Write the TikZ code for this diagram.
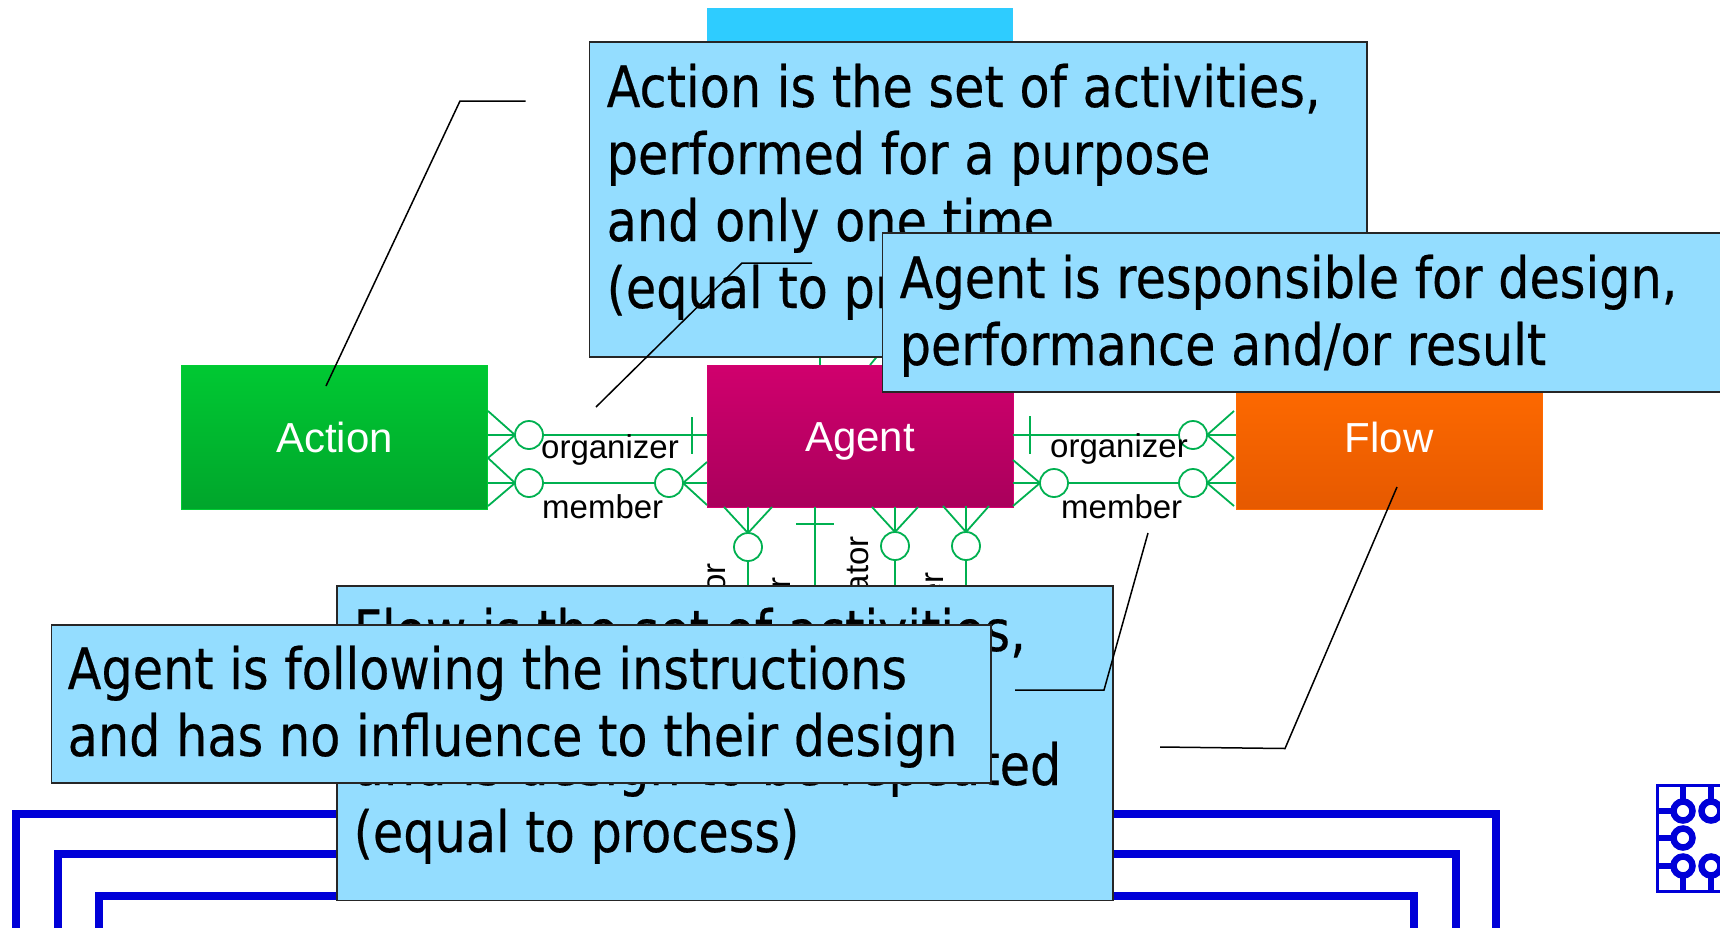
\documentclass[tikz,border=0pt]{standalone}
\usepackage{fontspec}
\setmainfont{Liberation Sans}
\newfontfamily\notefont[FakeStretch=0.865,FakeBold=0.35]{DejaVu Sans}
\definecolor{notefill}{HTML}{94DDFF}
\definecolor{cyantop}{HTML}{2ECCFF}
\definecolor{relgreen}{HTML}{00B050}
\definecolor{wireblue}{HTML}{0000D8}
\definecolor{acttop}{HTML}{00CC33}
\definecolor{actbot}{HTML}{009428}
\definecolor{agtop}{HTML}{D4006F}
\definecolor{agbot}{HTML}{960053}
\definecolor{fltop}{HTML}{FF6A00}
\definecolor{flbot}{HTML}{D85000}
\pgfdeclareverticalshading{actshade}{100bp}{color(0bp)=(actbot);color(80bp)=(acttop);color(100bp)=(acttop)}
\pgfdeclareverticalshading{agshade}{100bp}{color(0bp)=(agbot);color(80bp)=(agtop);color(100bp)=(agtop)}
\pgfdeclareverticalshading{flshade}{100bp}{color(0bp)=(flbot);color(70bp)=(fltop);color(100bp)=(fltop)}
\tikzset{
  x=1pt,y=-1pt,
  entity/.style={anchor=north west,inner sep=0pt,outer sep=0pt,text=white,font=\fontsize{42}{42}\selectfont,text height=30pt,text depth=0pt,line width=1pt},
  rel/.style={draw=relgreen,line width=1.8pt},
  ocirc/.style={circle,draw=relgreen,line width=1.8pt,fill=white,minimum size=28pt,inner sep=0pt,outer sep=0pt},
  role/.style={anchor=base west,inner sep=0pt,font=\fontsize{33}{33}\selectfont,text=black},
  vrole/.style={anchor=base east,rotate=90,inner sep=0pt,font=\fontsize{33}{33}\selectfont,text=black},
  notebox/.style={anchor=north west,inner sep=0pt,outer sep=0pt,draw=black!85,line width=1.5pt,fill=notefill},
  notetext/.style={anchor=base west,inner sep=0pt,align=left,font=\notefont\fontsize{57}{67}\selectfont,text=black},
  callout/.style={draw=black,line width=1.5pt},
  wire/.style={draw=wireblue,line width=8pt,miter limit=10},
  chipline/.style={draw=wireblue,line width=3pt},
  chipstem/.style={draw=wireblue,line width=6pt},
  chipring/.style={circle,draw=wireblue,line width=6.5pt,minimum size=19pt,inner sep=0pt,outer sep=0pt,fill=white},
}
\begin{document}
\begin{tikzpicture}
\useasboundingbox (0,0) rectangle (1720,927);
% blue wires
\coordinate (w1a) at (16,940); \coordinate (w1b) at (16,813.5); \coordinate (w1c) at (1496,813.5); \coordinate (w1d) at (1496,940);
\coordinate (w2a) at (57.5,940); \coordinate (w2b) at (57.5,854); \coordinate (w2c) at (1455.5,854); \coordinate (w2d) at (1455.5,940);
\coordinate (w3a) at (98.5,940); \coordinate (w3b) at (98.5,896); \coordinate (w3c) at (1414,896); \coordinate (w3d) at (1414,940);
\draw[wire] (w1a) -- (w1b) -- (w1c) -- (w1d);
\draw[wire] (w2a) -- (w2b) -- (w2c) -- (w2d);
\draw[wire] (w3a) -- (w3b) -- (w3c) -- (w3d);
% chip icon
\draw[chipline] (1730,785.5) -- (1657.5,785.5) -- (1657.5,891.5) -- (1730,891.5);
\node[chipring] (r1) at (1683,811) {};
\node[chipring] (r2) at (1711,811) {};
\node[chipring] (r3) at (1683,838) {};
\node[chipring] (r4) at (1683,866) {};
\node[chipring] (r5) at (1711,866) {};
\draw[chipstem] (r1.north) -- (1683,786);
\draw[chipstem] (r2.north) -- (1711,786);
\draw[chipstem] (r4.south) -- (1683,891);
\draw[chipstem] (r5.south) -- (1711,891);
\draw[chipstem] (r1.west) -- (1658,811);
\draw[chipstem] (r3.west) -- (1658,838);
\draw[chipstem] (r4.west) -- (1658,866);
% entities
\node[entity,fill=cyantop,minimum width=306pt,minimum height=36pt] (top) at (707,8) {};
\node[entity,shading=actshade,draw=acttop,minimum width=306pt,minimum height=143.5pt] (action) at (181.5,365.5) {Action};
\node[entity,shading=agshade,draw=agtop,minimum width=306pt,minimum height=141.5pt] (agent) at (707,365.5) {Agent};
\node[entity,shading=flshade,draw=fltop,minimum width=306pt,minimum height=143.5pt] (flow) at (1236,365.5) {Flow};
% top stubs
\coordinate (ts) at (895,335);
\draw[rel] (820,365) -- (top.south -| 820,0);
\draw[rel] (870,365) -- (ts);
% Action - Agent organizer
\node[ocirc] (c1) at (529,435) {};
\coordinate (af1) at (488,411); \coordinate (af2) at (488,458); \coordinate (af3) at (488,506);
\draw[rel] (c1.east) -- (agent.west |- c1);
\draw[rel] (c1.west) -- (action.east |- c1);
\draw[rel] (c1.west) -- (af1);
\draw[rel] (c1.west) -- (af2);
\coordinate (tk1a) at (692,417); \coordinate (tk1b) at (692,454);
\draw[rel] (tk1a) -- (tk1b);
% Action - Agent member
\node[ocirc] (c2) at (529,483) {};
\node[ocirc] (c3) at (669,483) {};
\draw[rel] (c2.east) -- (c3.west);
\draw[rel] (c2.west) -- (action.east |- c2);
\draw[rel] (c2.west) -- (af2);
\draw[rel] (c2.west) -- (af3);
\draw[rel] (c3.east) -- (agent.west |- c3);
\draw[rel] (c3.east) -- (707,462);
\draw[rel] (c3.east) -- (707,505);
% below Agent
\node[ocirc] (c4) at (748,547) {};
\node[ocirc] (c5) at (895,546) {};
\node[ocirc] (c6) at (966,546) {};
\draw[rel] (c4.north) -- (748,507);
\draw[rel] (c4.north) -- (724,507);
\draw[rel] (c4.north) -- (772,507);
\draw[rel] (c4.south) -- (748,590);
\draw[rel] (c5.north) -- (895,507);
\draw[rel] (c5.north) -- (872,507);
\draw[rel] (c5.north) -- (918,507);
\draw[rel] (c5.south) -- (895,590);
\draw[rel] (c6.north) -- (966,506);
\draw[rel] (c6.north) -- (943,506);
\draw[rel] (c6.north) -- (989,506);
\draw[rel] (c6.south) -- (966,590);
\draw[rel] (815,507) -- (815,590);
\draw[rel] (796,524) -- (834,524);
% Agent - Flow
\node[ocirc] (c7) at (1193,435) {};
\node[ocirc] (c8) at (1054,483) {};
\node[ocirc] (c9) at (1193,483) {};
\draw[rel] (agent.east |- c7) -- (c7.west);
\draw[rel] (1030,416) -- (1030,454);
\draw[rel] (c7.east) -- (flow.west |- c7);
\draw[rel] (c7.east) -- (1234,411);
\draw[rel] (c7.east) -- (1234,458);
\draw[rel] (c8.east) -- (c9.west);
\draw[rel] (c8.west) -- (agent.east |- c8);
\draw[rel] (c8.west) -- (1013,460);
\draw[rel] (c8.west) -- (1013,506);
\draw[rel] (c9.east) -- (flow.west |- c9);
\draw[rel] (c9.east) -- (1234,458);
\draw[rel] (c9.east) -- (1234,506);
% role labels
\node[role] (l1) at (541,458) {organizer};
\node[role] (l2) at (542,518) {member};
\node[role] (l3) at (1050,457) {organizer};
\node[role] (l4) at (1061,518) {member};
\node[vrole] (v1) at (725,563) {or};
\node[vrole] (v2) at (790,577) {r};
\node[vrole] (v3) at (868,536) {ator};
\node[vrole] (v4) at (943,572) {er};
% callouts under notes
\coordinate (p1a) at (525.5,101); \coordinate (p1b) at (460,101); \coordinate (p1c) at (326,386);
\draw[callout] (p1a) -- (p1b) -- (p1c);
\coordinate (p4a) at (1160,747); \coordinate (p4b) at (1285,748.5); \coordinate (p4c) at (1397,487);
\draw[callout] (p4a) -- (p4b) -- (p4c);
% notes
\node[notebox,minimum width=777.5pt,minimum height=315pt] (n1) at (589.5,42) {};
\node[notetext] (t1) at (606.5,308) {Action is the set of activities,\\performed for a purpose\\and only one time\\(equal to process)};
\coordinate (p2a) at (812,263); \coordinate (p2b) at (742,263); \coordinate (p2c) at (596,407);
\draw[callout] (p2a) -- (p2b) -- (p2c);
\node[notebox,minimum width=860pt,minimum height=159pt] (n2) at (882.5,233) {};
\node[notetext] (t2) at (899.5,365) {Agent is responsible for design,\\performance and/or result};
\node[notebox,minimum width=776pt,minimum height=314.5pt] (n3) at (337,586) {};
\node[notetext] (t3) at (353.5,852) {Flow is the set of activities,\\\\and is design to be repeated\\(equal to process)};
\coordinate (p3a) at (1015,690); \coordinate (p3b) at (1104,690); \coordinate (p3c) at (1148,533);
\draw[callout] (p3a) -- (p3b) -- (p3c);
\node[notebox,minimum width=939.5pt,minimum height=158pt] (n4) at (51.5,625) {};
\node[notetext] (t4) at (67.5,756) {Agent is following the instructions\\and has no influence to their design};
\end{tikzpicture}
\end{document}
